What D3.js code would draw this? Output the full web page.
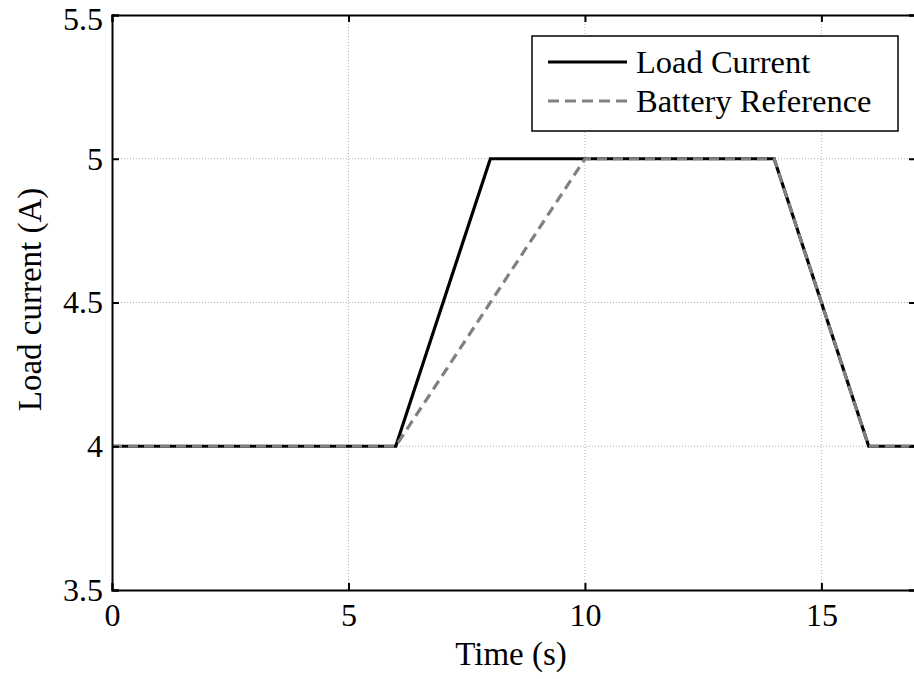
<!DOCTYPE html>
<html><head><meta charset="utf-8">
<script src="https://cdn.jsdelivr.net/npm/d3@7"></script>
<style>body{margin:0;background:#fff;} svg{display:block;} text{font-family:"Liberation Serif","Times New Roman",serif;}</style>
</head><body>
<svg id="c" width="914" height="679"></svg>
<script>
const loadTime = [0, 6, 8, 14, 16, 17];
const loadCurrent = [4, 4, 5, 5, 4, 4];
const refTime = [0, 6, 10, 14, 16, 17];
const refCurrent = [4, 4, 5, 5, 4, 4];
const xTicks = [0, 5, 10, 15];
const yTicks = [3.5, 4, 4.5, 5, 5.5];
const seriesNames = ["Load Current", "Battery Reference"];

const FONT = '"Liberation Serif","Times New Roman",serif';
const svg = d3.select("#c");
const L = 112, R = 916, T = 15, B = 590;
const x = d3.scaleLinear().domain([0, 17]).range([L, R]);
const y = d3.scaleLinear().domain([3.5, 5.5]).range([B, T]);

// grid
const g = svg.append("g");
g.selectAll(".gx").data(xTicks.filter(d => d > 0)).enter().append("line")
  .attr("x1", d => x(d)).attr("x2", d => x(d)).attr("y1", T).attr("y2", B)
  .attr("stroke", "#b0b0b0").attr("stroke-width", 1).attr("stroke-dasharray", "1,2");
g.selectAll(".gy").data(yTicks.filter(d => d > 3.5 && d < 5.5)).enter().append("line")
  .attr("y1", d => y(d)).attr("y2", d => y(d)).attr("x1", L).attr("x2", R)
  .attr("stroke", "#b0b0b0").attr("stroke-width", 1).attr("stroke-dasharray", "1,2");

// lines
const line = d3.line().x(d => x(d[0])).y(d => y(d[1]));
svg.append("path").datum(loadTime.map((t, i) => [t, loadCurrent[i]]))
  .attr("d", line).attr("fill", "none").attr("stroke", "#000").attr("stroke-width", 3.2);
svg.append("path").datum(refTime.map((t, i) => [t, refCurrent[i]]))
  .attr("d", line).attr("fill", "none").attr("stroke", "#808080").attr("stroke-width", 3.2)
  .attr("stroke-dasharray", "10,6");

// axes
const ax = svg.append("g").attr("transform", `translate(0,${B})`)
  .call(d3.axisBottom(x).tickValues(xTicks).tickSize(-7).tickPadding(13).tickFormat(d3.format("d")));
const axT = svg.append("g").attr("transform", `translate(0,${T})`)
  .call(d3.axisTop(x).tickValues(xTicks).tickSize(-7).tickFormat(""));
const ay = svg.append("g").attr("transform", `translate(${L},0)`)
  .call(d3.axisLeft(y).tickValues(yTicks).tickSize(-7).tickPadding(9).tickFormat(d => String(d)));
const ayR = svg.append("g").attr("transform", `translate(${R},0)`)
  .call(d3.axisRight(y).tickValues(yTicks).tickSize(-7).tickFormat(""));
[ax, axT, ay, ayR].forEach(a => {
  a.attr("font-size", null).attr("font-family", null);
  a.select(".domain").attr("stroke", "#000").attr("stroke-width", 2);
  a.selectAll(".tick line").attr("stroke", "#000").attr("stroke-width", 2);
  a.selectAll(".tick text").attr("fill", "#000")
    .style("font-size", "32px").style("font-family", FONT);
});
// keep the top tick label inside the picture
ay.selectAll(".tick text").filter(d => d === 5.5).attr("dy", "0.45em");

svg.append("text").attr("x", 511).attr("y", 665).attr("text-anchor", "middle")
  .style("font-size", "33px").text("Time (s)");
svg.append("text").attr("transform", `translate(41,${(T + B) / 2 - 3}) rotate(-90)`)
  .attr("text-anchor", "middle").style("font-size", "33px").text("Load current (A)");

// legend
const lg = svg.append("g");
lg.append("rect").attr("x", 532).attr("y", 36).attr("width", 366).attr("height", 95)
  .attr("fill", "#fff").attr("stroke", "#000").attr("stroke-width", 1.5);
const styles = [{c: "#000", d: null}, {c: "#808080", d: "11,6"}];
seriesNames.forEach((n, i) => {
  const yy = 62 + i * 39;
  lg.append("line").attr("x1", 548).attr("x2", 627).attr("y1", yy).attr("y2", yy)
    .attr("stroke", styles[i].c).attr("stroke-width", 3.2).attr("stroke-dasharray", styles[i].d);
  lg.append("text").attr("x", 636).attr("y", yy + 11).style("font-size", "32.5px").text(n);
});
</script>
</body></html>
